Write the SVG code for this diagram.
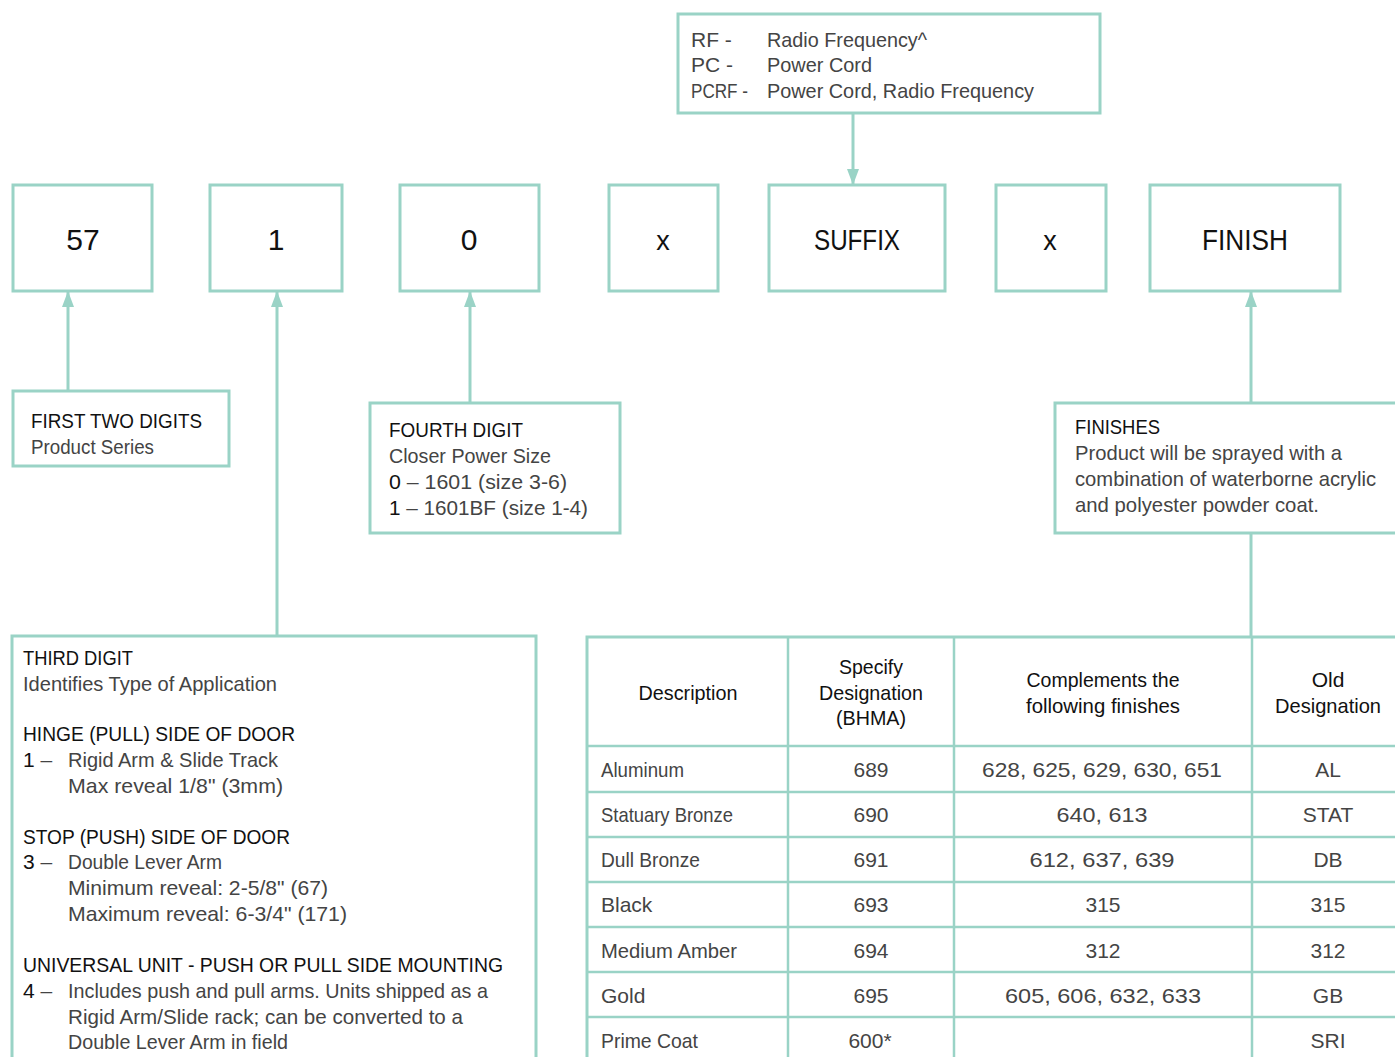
<svg xmlns="http://www.w3.org/2000/svg" width="1395" height="1057" viewBox="0 0 1395 1057">
<style>
text{font-family:"Liberation Sans",Arial,sans-serif;font-size:21px}
.box{fill:#fff;stroke:#9ad3c6;stroke-width:3}
.ln{stroke:#9ad3c6;stroke-width:3;fill:none}
.h{fill:#111}
.b{fill:#444}
.k{fill:#111}
.big{font-size:30px;fill:#111;text-anchor:middle}
.x{font-size:27px;fill:#111;text-anchor:middle}
.c{text-anchor:middle}
.g{stroke:#9ad3c6;stroke-width:2.5;fill:none}
</style>
<defs>
<marker id="arr" viewBox="0 0 16 12" refX="15" refY="6" markerWidth="16" markerHeight="12" markerUnits="userSpaceOnUse" orient="auto">
<path d="M0,0 L16,6 L0,12 Z" fill="#9ad3c6"/>
</marker>
</defs>
<rect width="1395" height="1057" fill="#fff"/>

<g id="connectors">
<line class="ln" x1="853" y1="114" x2="853" y2="184" marker-end="url(#arr)"/>
<line class="ln" x1="68" y1="391" x2="68" y2="292" marker-end="url(#arr)"/>
<line class="ln" x1="277" y1="636" x2="277" y2="292" marker-end="url(#arr)"/>
<line class="ln" x1="470" y1="403" x2="470" y2="292" marker-end="url(#arr)"/>
<line class="ln" x1="1251" y1="403" x2="1251" y2="292" marker-end="url(#arr)"/>
<line class="ln" x1="1251" y1="534" x2="1251" y2="637"/>
</g>

<g id="suffix-legend">
<rect class="box" x="678" y="14" width="422" height="99"/>
<text class="b" x="691" y="47">RF -</text>
<text class="b" x="767" y="47" textLength="160" lengthAdjust="spacingAndGlyphs">Radio Frequency^</text>
<text class="b" x="691" y="72">PC -</text>
<text class="b" x="767" y="72" textLength="105" lengthAdjust="spacingAndGlyphs">Power Cord</text>
<text class="b" x="691" y="98" textLength="57" lengthAdjust="spacingAndGlyphs">PCRF -</text>
<text class="b" x="767" y="98" textLength="267" lengthAdjust="spacingAndGlyphs">Power Cord, Radio Frequency</text>
</g>

<g id="box-57"><rect class="box" x="13" y="185" width="139" height="106"/><text class="big" x="83" y="250">57</text></g>
<g id="box-1"><rect class="box" x="210" y="185" width="132" height="106"/><text class="big" x="276" y="250">1</text></g>
<g id="box-0"><rect class="box" x="400" y="185" width="139" height="106"/><text class="big" x="469" y="250">0</text></g>
<g id="box-x1"><rect class="box" x="609" y="185" width="109" height="106"/><text class="x" x="663" y="250">x</text></g>
<g id="box-suffix"><rect class="box" x="769" y="185" width="176" height="106"/><text class="big" x="857" y="250" textLength="86" lengthAdjust="spacingAndGlyphs">SUFFIX</text></g>
<g id="box-x2"><rect class="box" x="996" y="185" width="110" height="106"/><text class="x" x="1050" y="250">x</text></g>
<g id="box-finish"><rect class="box" x="1150" y="185" width="190" height="106"/><text class="big" x="1245" y="250" textLength="86" lengthAdjust="spacingAndGlyphs">FINISH</text></g>

<g id="first-two-digits">
<rect class="box" x="13" y="391" width="216" height="75"/>
<text class="h" x="31" y="428" textLength="171" lengthAdjust="spacingAndGlyphs">FIRST TWO DIGITS</text>
<text class="b" x="31" y="454" textLength="123" lengthAdjust="spacingAndGlyphs">Product Series</text>
</g>

<g id="fourth-digit">
<rect class="box" x="370" y="403" width="250" height="130"/>
<text class="h" x="389" y="437" textLength="134" lengthAdjust="spacingAndGlyphs">FOURTH DIGIT</text>
<text class="b" x="389" y="463" textLength="162" lengthAdjust="spacingAndGlyphs">Closer Power Size</text>
<text class="b" x="389" y="489" textLength="178" lengthAdjust="spacingAndGlyphs"><tspan class="k">0</tspan> – 1601 (size 3-6)</text>
<text class="b" x="389" y="515" textLength="199" lengthAdjust="spacingAndGlyphs"><tspan class="k">1</tspan> – 1601BF (size 1-4)</text>
</g>

<g id="finishes">
<rect class="box" x="1055" y="403" width="360" height="130"/>
<text class="h" x="1075" y="434" textLength="85" lengthAdjust="spacingAndGlyphs">FINISHES</text>
<text class="b" x="1075" y="460" textLength="267" lengthAdjust="spacingAndGlyphs">Product will be sprayed with a</text>
<text class="b" x="1075" y="486" textLength="301" lengthAdjust="spacingAndGlyphs">combination of waterborne acrylic</text>
<text class="b" x="1075" y="512" textLength="244" lengthAdjust="spacingAndGlyphs">and polyester powder coat.</text>
</g>

<g id="third-digit">
<rect class="box" x="12" y="636" width="524" height="440"/>
<text class="h" x="23" y="665" textLength="110" lengthAdjust="spacingAndGlyphs">THIRD DIGIT</text>
<text class="b" x="23" y="691" textLength="254" lengthAdjust="spacingAndGlyphs">Identifies Type of Application</text>
<text class="h" x="23" y="741" textLength="272" lengthAdjust="spacingAndGlyphs">HINGE (PULL) SIDE OF DOOR</text>
<text class="b" x="23" y="767"><tspan class="k">1</tspan> –</text>
<text class="b" x="68" y="767" textLength="210" lengthAdjust="spacingAndGlyphs">Rigid Arm &amp; Slide Track</text>
<text class="b" x="68" y="793" textLength="215" lengthAdjust="spacingAndGlyphs">Max reveal 1/8" (3mm)</text>
<text class="h" x="23" y="844" textLength="267" lengthAdjust="spacingAndGlyphs">STOP (PUSH) SIDE OF DOOR</text>
<text class="b" x="23" y="869"><tspan class="k">3</tspan> –</text>
<text class="b" x="68" y="869" textLength="154" lengthAdjust="spacingAndGlyphs">Double Lever Arm</text>
<text class="b" x="68" y="895" textLength="260" lengthAdjust="spacingAndGlyphs">Minimum reveal: 2-5/8" (67)</text>
<text class="b" x="68" y="921" textLength="279" lengthAdjust="spacingAndGlyphs">Maximum reveal: 6-3/4" (171)</text>
<text class="h" x="23" y="972" textLength="480" lengthAdjust="spacingAndGlyphs">UNIVERSAL UNIT - PUSH OR PULL SIDE MOUNTING</text>
<text class="b" x="23" y="998"><tspan class="k">4</tspan> –</text>
<text class="b" x="68" y="998" textLength="420" lengthAdjust="spacingAndGlyphs">Includes push and pull arms. Units shipped as a</text>
<text class="b" x="68" y="1024" textLength="395" lengthAdjust="spacingAndGlyphs">Rigid Arm/Slide rack; can be converted to a</text>
<text class="b" x="68" y="1049" textLength="220" lengthAdjust="spacingAndGlyphs">Double Lever Arm in field</text>
</g>

<g id="finish-table">
<rect class="box" x="587" y="637" width="830" height="440"/>
<path class="g" d="M788,637V1077M954,637V1077M1252,637V1077M587,746H1417M587,792H1417M587,837H1417M587,882H1417M587,927H1417M587,972H1417M587,1017H1417"/>
<text class="h c" x="688" y="700" textLength="99" lengthAdjust="spacingAndGlyphs">Description</text>
<text class="h c" x="871" y="674" textLength="64" lengthAdjust="spacingAndGlyphs">Specify</text>
<text class="h c" x="871" y="700" textLength="104" lengthAdjust="spacingAndGlyphs">Designation</text>
<text class="h c" x="871" y="725" textLength="70" lengthAdjust="spacingAndGlyphs">(BHMA)</text>
<text class="h c" x="1103" y="687" textLength="153" lengthAdjust="spacingAndGlyphs">Complements the</text>
<text class="h c" x="1103" y="713" textLength="154" lengthAdjust="spacingAndGlyphs">following finishes</text>
<text class="h c" x="1328" y="687">Old</text>
<text class="h c" x="1328" y="713" textLength="106" lengthAdjust="spacingAndGlyphs">Designation</text>
<text class="b" x="601" y="777" textLength="83" lengthAdjust="spacingAndGlyphs">Aluminum</text>
<text class="b c" x="871" y="777">689</text>
<text class="b c" x="1102" y="777" textLength="240" lengthAdjust="spacingAndGlyphs">628, 625, 629, 630, 651</text>
<text class="b c" x="1328" y="777">AL</text>
<text class="b" x="601" y="822" textLength="132" lengthAdjust="spacingAndGlyphs">Statuary Bronze</text>
<text class="b c" x="871" y="822">690</text>
<text class="b c" x="1102" y="822" textLength="91" lengthAdjust="spacingAndGlyphs">640, 613</text>
<text class="b c" x="1328" y="822">STAT</text>
<text class="b" x="601" y="867" textLength="99" lengthAdjust="spacingAndGlyphs">Dull Bronze</text>
<text class="b c" x="871" y="867">691</text>
<text class="b c" x="1102" y="867" textLength="145" lengthAdjust="spacingAndGlyphs">612, 637, 639</text>
<text class="b c" x="1328" y="867">DB</text>
<text class="b" x="601" y="912">Black</text>
<text class="b c" x="871" y="912">693</text>
<text class="b c" x="1103" y="912">315</text>
<text class="b c" x="1328" y="912">315</text>
<text class="b" x="601" y="958" textLength="136" lengthAdjust="spacingAndGlyphs">Medium Amber</text>
<text class="b c" x="871" y="958">694</text>
<text class="b c" x="1103" y="958">312</text>
<text class="b c" x="1328" y="958">312</text>
<text class="b" x="601" y="1003">Gold</text>
<text class="b c" x="871" y="1003">695</text>
<text class="b c" x="1103" y="1003" textLength="196" lengthAdjust="spacingAndGlyphs">605, 606, 632, 633</text>
<text class="b c" x="1328" y="1003">GB</text>
<text class="b" x="601" y="1048" textLength="97" lengthAdjust="spacingAndGlyphs">Prime Coat</text>
<text class="b c" x="870" y="1048">600*</text>
<text class="b c" x="1328" y="1048">SRI</text>
</g>
</svg>
